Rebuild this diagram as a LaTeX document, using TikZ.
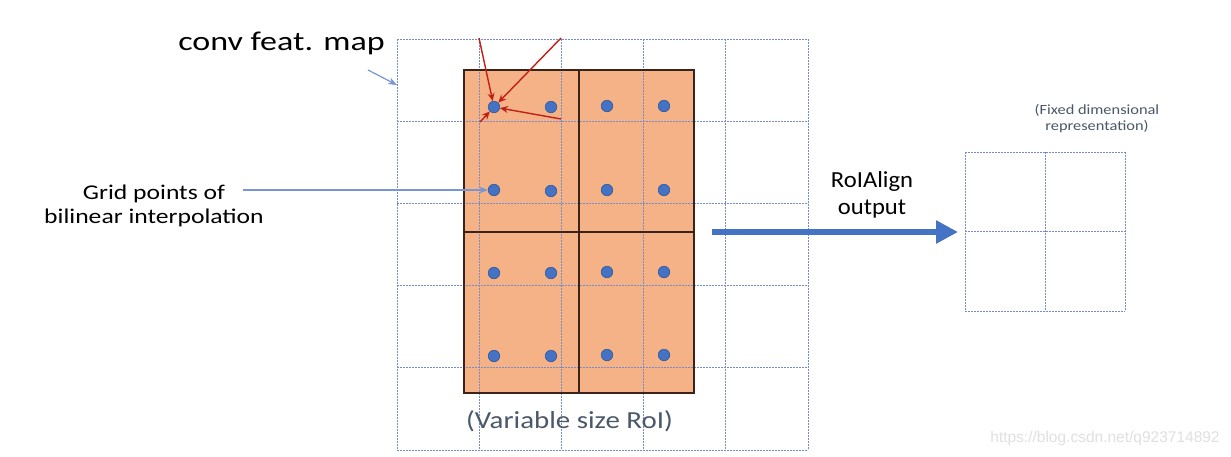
\documentclass[tikz,border=0pt]{standalone}
\usepackage{fontspec}
\setmainfont{Carlito}
\newfontfamily\wmfont{Liberation Sans}
\usetikzlibrary{arrows.meta}
\definecolor{gridblue}{RGB}{115,140,205}
\definecolor{roifill}{RGB}{244,178,134}
\definecolor{roiline}{RGB}{60,35,25}
\definecolor{dotblue}{RGB}{68,114,196}
\definecolor{dotedge}{RGB}{47,85,151}
\definecolor{arrred}{RGB}{192,32,24}
\definecolor{lightarrow}{RGB}{120,150,210}
\definecolor{textgrey}{RGB}{75,88,105}
\newcommand{\stretchtext}[2]{\scalebox{#1}[1]{\begin{tabular}[t]{@{}c@{}}#2\end{tabular}}}
\tikzset{
  gridline/.style={draw=gridblue, line width=1pt, dash pattern=on 2pt off 1pt},
  dot/.style={circle, fill=dotblue, draw=dotedge, line width=0.6pt, minimum size=11.5pt, inner sep=0pt},
  redarrow/.style={draw=arrred, line width=1.4pt, -{Stealth[length=8pt,width=7pt]}},
  thinblue/.style={draw=lightarrow, line width=1.2pt, -{Stealth[length=9pt,width=7pt]}},
  bigarrow/.style={draw=dotblue, line width=6.5pt, -{Triangle[length=22pt,width=22pt]}},
  roi/.style={draw=roiline, line width=1.4pt},
  label/.style={inner sep=0pt, anchor=base}
}
\begin{document}
\begin{tikzpicture}[x=1pt,y=-1pt]
\useasboundingbox (0,0) rectangle (1231,456);
\fill[white] (0,0) rectangle (1231,456);
% RoI fill
\fill[roifill] (464,70) rectangle (694,393);
% feature map grid
\foreach \i in {0,...,5} {
  \draw[gridline] ({397+82.2*\i},39) -- ({397+82.2*\i},450);
  \draw[gridline] (397,{39+82.2*\i}) -- (808,{39+82.2*\i});
}
% RoI outline and bins
\draw[roi] (464,70) rectangle (694,393);
\draw[roi] (579,70) -- (579,393);
\draw[roi] (464,232) -- (694,232);
% sample points
\node[dot] (d11) at (494,107) {};
\node[dot] (d12) at (551,107) {};
\node[dot] (d13) at (607,106) {};
\node[dot] (d14) at (664,106) {};
\node[dot] (d21) at (494,190) {};
\node[dot] (d22) at (551,191) {};
\node[dot] (d23) at (607,190) {};
\node[dot] (d24) at (664,190) {};
\node[dot] (d31) at (494,273) {};
\node[dot] (d32) at (551,273) {};
\node[dot] (d33) at (607,272) {};
\node[dot] (d34) at (664,272) {};
\node[dot] (d41) at (494,356) {};
\node[dot] (d42) at (551,356) {};
\node[dot] (d43) at (607,355) {};
\node[dot] (d44) at (664,355) {};
% red interpolation arrows
\coordinate (r1) at (479,38);
\coordinate (r2) at (561,38);
\coordinate (r3) at (561,119);
\coordinate (r4) at (480,122);
\draw[redarrow] (r1) -- (d11);
\draw[redarrow] (r2) -- (d11);
\draw[redarrow] (r3) -- (d11);
\draw[redarrow] (r4) -- (d11);
% labels
\node[label, font=\fontsize{27}{31}\selectfont] (conv) at (281.5,50) {\stretchtext{1.26}{conv feat. map}};
\coordinate (c1) at (368,70);
\coordinate (c2) at (397,85);
\draw[thinblue] (c1) -- (c2);
\node[label, font=\fontsize{21}{24}\selectfont] (gp) at (154,199) {\stretchtext{1.22}{Grid points of\\bilinear interpolation}};
\coordinate (g1) at (243,190);
\draw[thinblue] (g1) -- (d21);
\node[label, font=\fontsize{23}{27}\selectfont] (ra) at (872,187) {\stretchtext{1.07}{RoIAlign\\output}};
\coordinate (a1) at (712,232);
\coordinate (a2) at (958,232);
\draw[bigarrow] (a1) -- (a2);
% output grid
\foreach \i in {0,1,2} {
  \draw[gridline] ({965+80*\i},152) -- ({965+80*\i},311);
  \draw[gridline] (965,{152+79.5*\i}) -- (1125,{152+79.5*\i});
}
\node[label, text=textgrey, font=\fontsize{14}{16}\selectfont] (fx) at (1097,114) {\stretchtext{1.17}{(Fixed dimensional\\representation)}};
\node[label, text=textgrey, font=\fontsize{24.5}{28}\selectfont] (vs) at (569.5,428) {\stretchtext{1.18}{(Variable size RoI)}};
\node[label, text=black!12, font=\wmfont\fontsize{15.5}{18}\selectfont] (wm) at (1105,442) {https://blog.csdn.net/q923714892};
\end{tikzpicture}
\end{document}
